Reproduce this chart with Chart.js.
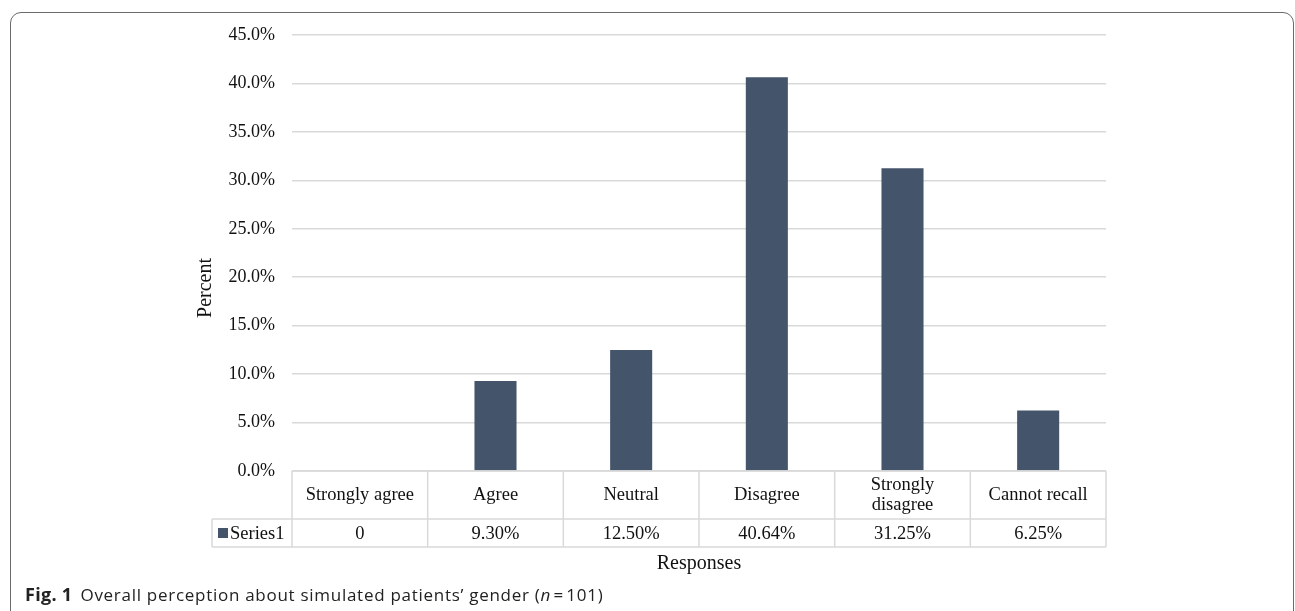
<!DOCTYPE html>
<html>
<head>
<meta charset="utf-8">
<script src="https://cdn.jsdelivr.net/npm/chart.js@4.4.1/dist/chart.umd.min.js"></script>
<style>
  html, body { margin: 0; padding: 0; background: #fff; width: 1295px; height: 611px; overflow: hidden; }
  #frame { position: absolute; left: 10px; top: 12px; width: 1284px; height: 700px; border: 1.5px solid #6a6a6a; border-radius: 11px; box-sizing: border-box; }
  #wrap { position: absolute; left: 0; top: 0; width: 1295px; height: 611px; }
  #caption { position: absolute; left: 25px; top: 582px; font-family: "Open Sans", "Noto Sans", sans-serif; font-size: 17px; letter-spacing: 0.72px; color: #222; white-space: nowrap; }
  #caption b { font-weight: 700; font-size: 18px; margin-right: 8px; letter-spacing: 0.3px; }
</style>
</head>
<body>
<div id="frame"></div>
<div id="wrap"><canvas id="c" width="1295" height="611"></canvas></div>
<div id="caption"><b>Fig. 1</b>Overall perception about simulated patients’ gender (<i>n</i>&#8202;=&#8202;101)</div>
<script>
const categories = ['Strongly agree', 'Agree', 'Neutral', 'Disagree', ['Strongly', 'disagree'], 'Cannot recall'];
const seriesName = 'Series1';
const seriesValues = [0, 9.30, 12.50, 40.64, 31.25, 6.25];
const tableLabels = ['0', '9.30%', '12.50%', '40.64%', '31.25%', '6.25%'];
const yTickMax = 45;
const yTickStep = 5;
const yTitle = 'Percent';
const xTitle = 'Responses';

const BAR = '#44546a';
const LINE = '#d9d9d9';
const FONT = '"Liberation Serif", "Times New Roman", serif';

const tablePlugin = {
  id: 'dataTable',
  afterDraw(chart) {
    const ctx = chart.ctx;
    const x = chart.scales.x;
    const area = chart.chartArea;
    const n = categories.length;
    const cw = (area.right - area.left) / n;
    const top = area.bottom;
    const row1 = top + 48;
    const row2 = row1 + 28;
    const legLeft = area.left - 80;
    ctx.save();
    ctx.strokeStyle = LINE;
    ctx.lineWidth = 1.5;
    ctx.beginPath();
    ctx.moveTo(area.left, top); ctx.lineTo(area.right, top);
    ctx.moveTo(legLeft, row1); ctx.lineTo(area.right, row1);
    ctx.moveTo(legLeft, row2); ctx.lineTo(area.right, row2);
    for (let i = 0; i <= n; i++) {
      const px = area.left + i * cw;
      ctx.moveTo(px, top); ctx.lineTo(px, row2);
    }
    ctx.moveTo(legLeft, row1); ctx.lineTo(legLeft, row2);
    ctx.stroke();

    ctx.fillStyle = '#111';
    ctx.font = '18.5px ' + FONT;
    ctx.textAlign = 'center';
    ctx.textBaseline = 'middle';
    for (let i = 0; i < n; i++) {
      const cx = x.getPixelForValue(i);
      const lab = categories[i];
      const midH = (top + row1) / 2;
      if (Array.isArray(lab)) {
        const lh = 20;
        lab.forEach((t, k) => ctx.fillText(t, cx, midH + (k - (lab.length - 1) / 2) * lh));
      } else {
        ctx.fillText(lab, cx, midH);
      }
      ctx.fillText(tableLabels[i], cx, (row1 + row2) / 2 + 1);
    }
    const midR = (row1 + row2) / 2;
    ctx.fillStyle = BAR;
    ctx.fillRect(legLeft + 6, midR - 5, 10, 10);
    ctx.fillStyle = '#111';
    ctx.textAlign = 'left';
    ctx.fillText(seriesName, legLeft + 18, midR + 1);
    ctx.textAlign = 'center';
    ctx.font = '20px ' + FONT;
    ctx.fillText(xTitle, (area.left + area.right) / 2, row2 + 17);
    ctx.translate(206, 288);
    ctx.rotate(-Math.PI / 2);
    ctx.fillText(yTitle, 0, 0);
    ctx.restore();
  }
};

new Chart(document.getElementById('c'), {
  type: 'bar',
  data: {
    labels: categories,
    datasets: [{
      label: seriesName,
      data: seriesValues,
      backgroundColor: BAR,
      borderWidth: 0,
      categoryPercentage: 1.0,
      barPercentage: 0.31
    }]
  },
  options: {
    responsive: false,
    animation: false,
    devicePixelRatio: 1,
    layout: { padding: { left: 0, right: 189, top: 35, bottom: 140 } },
    plugins: { legend: { display: false }, tooltip: { enabled: false } },
    scales: {
      x: { display: false, offset: true },
      y: {
        min: 0, max: yTickMax,
        afterFit(s) { s.width = 292; },
        border: { display: false },
        grid: { color: LINE, lineWidth: 1.5, drawTicks: false },
        ticks: {
          stepSize: yTickStep, padding: 17, color: '#111',
          font: { family: FONT, size: 18 },
          callback: v => v.toFixed(1) + '%'
        },
        title: { display: false }
      }
    }
  },
  plugins: [tablePlugin]
});
</script>
</body>
</html>
